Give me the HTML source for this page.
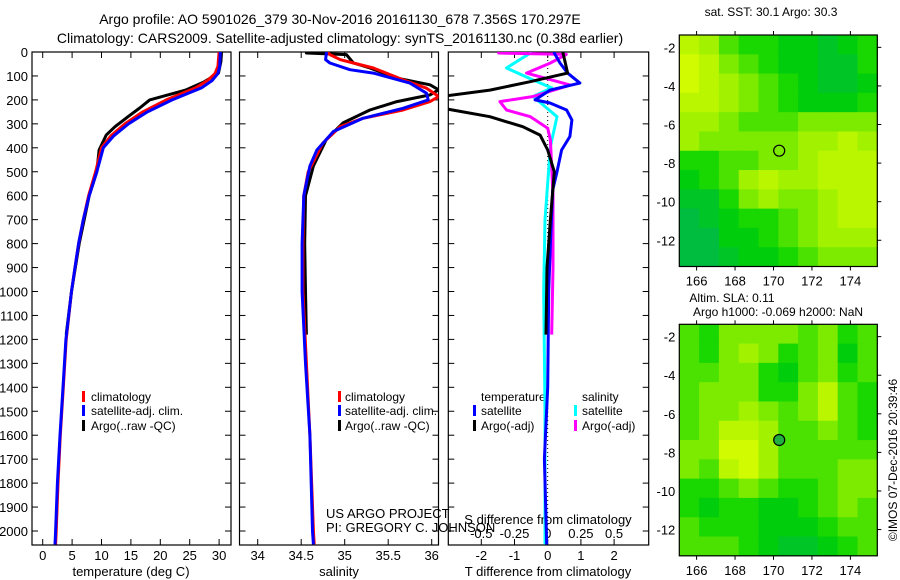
<!DOCTYPE html>
<html><head><meta charset="utf-8"><style>
html,body{margin:0;padding:0;background:#fff}
svg{display:block;font-family:"Liberation Sans",sans-serif}
</style></head><body>
<svg id="fig" width="900" height="580" viewBox="0 0 900 580">
<g id="texts" font-size="14" fill="#000">
<text x="340" y="24" text-anchor="middle">Argo profile: AO 5901026_379 30-Nov-2016 20161130_678 7.356S 170.297E</text>
<text x="340" y="43" text-anchor="middle">Climatology: CARS2009. Satellite-adjusted climatology: synTS_20161130.nc (0.38d earlier)</text>
<text x="771" y="16" text-anchor="middle" font-size="12">sat. SST: 30.1 Argo: 30.3</text>
<text x="732" y="302" text-anchor="middle" font-size="12">Altim. SLA: 0.11</text>
<text x="778" y="316" text-anchor="middle" font-size="12">Argo h1000: -0.069 h2000: NaN</text>
<text transform="translate(897,460) rotate(-90)" text-anchor="middle" font-size="12">©IMOS 07-Dec-2016 20:39:46</text>
<text x="131" y="576" text-anchor="middle" font-size="13">temperature (deg C)</text>
<text x="339" y="576" text-anchor="middle" font-size="13">salinity</text>
<text x="548" y="576" text-anchor="middle" font-size="13">T difference from climatology</text>
<text x="548" y="524" text-anchor="middle" font-size="13">S difference from climatology</text>
<text x="326" y="518" font-size="13">US ARGO PROJECT</text>
<text x="326" y="532" font-size="13">PI: GREGORY C. JOHNSON</text>
</g>
<g id="legends" font-size="12">
<g><rect x="82" y="391" width="3" height="11" fill="#f00"/><text x="91" y="401">climatology</text></g>
<g><rect x="82" y="405" width="3" height="11" fill="#00f"/><text x="91" y="415">satellite-adj. clim.</text></g>
<g><rect x="82" y="420" width="3" height="11" fill="#000"/><text x="91" y="430">Argo(..raw -QC)</text></g>
<g><rect x="338" y="391" width="3" height="11" fill="#f00"/><text x="345" y="401">climatology</text></g>
<g><rect x="338" y="405" width="3" height="11" fill="#00f"/><text x="345" y="415">satellite-adj. clim.</text></g>
<g><rect x="338" y="420" width="3" height="11" fill="#000"/><text x="345" y="430">Argo(..raw -QC)</text></g>
<text x="481" y="401">temperature</text>
<text x="582" y="401">salinity</text>
<g><rect x="473" y="405" width="3" height="11" fill="#00f"/><text x="481" y="415">satellite</text></g>
<g><rect x="473" y="420" width="3" height="11" fill="#000"/><text x="481" y="430">Argo(-adj)</text></g>
<g><rect x="574" y="405" width="3" height="11" fill="#0ff"/><text x="582" y="415">satellite</text></g>
<g><rect x="574" y="420" width="3" height="11" fill="#f0f"/><text x="582" y="430">Argo(-adj)</text></g>
</g>
</svg>
<script>
// ---------- data ----------
const depthTicks = [0,100,200,300,400,500,600,700,800,900,1000,1100,1200,1300,1400,1500,1600,1700,1800,1900,2000];
const tempTicks = [0,5,10,15,20,25,30];
const salTicks = [34,34.5,35,35.5,36];
const salTickLabels = ["34","34.5","35","35.5","36"];
const tdiffTicks = [-2,-1,0,1,2];
const sdiffTicks = [-0.5,-0.25,0,0.25,0.5];
const sdiffTickLabels = ["-0.5","-0.25","0","0.25","0.5"];

const tClimDepth = [0,60,90,120,150,200,250,300,350,400,500,600,700,800,900,1000,1200,1400,1600,1800,2000,2056];
const tClimVal   = [30,29.8,29.3,28,26,21,17,14,11.6,10,9.0,7.8,6.9,6.1,5.5,4.9,4.0,3.5,3.0,2.6,2.3,2.2];
const tSatDepth  = [0,60,90,120,150,200,250,300,350,400,500,600,700,800,900,1000,1200,1400,1600,1800,2000,2056];
const tSatVal    = [30.2,30.1,29.8,28.8,27,22,17.8,14.6,12.1,10.3,9.2,7.9,6.9,6.1,5.5,4.9,3.95,3.45,2.95,2.5,2.2,2.1];
const tArgoDepth = [0,40,88,124,159,200,234,270,312,347,409,500,600,800,1000,1180];
const tArgoVal   = [30.4,30.3,29.9,27.5,24.3,18.2,16.5,14.5,12.3,10.8,9.6,9.2,7.9,6.2,4.9,4.0];

const sClimDepth = [0,11,32,46,67,116,151,186,207,242,277,311,380,500,600,800,1000,1300,1600,2000,2056];
const sClimVal   = [34.8,34.83,34.95,35.1,35.33,35.67,35.94,36.08,35.98,35.67,35.21,34.95,34.75,34.58,34.53,34.52,34.52,34.56,34.6,34.64,34.65];
const sSatDepth  = [0,4,32,46,74,88,130,172,200,235,277,332,409,476,600,800,1000,1300,1600,2000,2056];
const sSatVal    = [34.8,34.79,34.78,34.83,35.06,35.33,35.75,35.94,35.96,35.67,35.21,34.87,34.68,34.6,34.53,34.51,34.51,34.55,34.6,34.63,34.64];
const sArgoDepth = [0,4,11,46,67,109,137,158,179,207,242,296,365,476,600,800,1000,1180];
const sArgoVal   = [34.56,34.56,35.02,35.1,35.29,35.6,35.98,36.08,35.98,35.6,35.29,34.98,34.79,34.64,34.55,34.54,34.55,34.56];

const dTArgoDepth = [0,4,40,88,124,159,186,234,270,312,347,409,500,700,900,1180];
const dTArgoVal   = [0.46,0.46,0.52,0.6,-0.53,-1.74,-3.2,-3.2,-1.74,-0.75,-0.23,0,0.2,0.08,-0.02,-0.05];
const dTSatDepth  = [0,4,46,88,130,159,200,213,242,284,353,409,506,576,800,1000,1400,1700,2056];
const dTSatVal    = [0.2,0.2,0.37,0.6,0.97,0.07,-0.38,0.07,0.57,0.73,0.67,0.42,0.27,0.15,0.08,0.03,0.0,-0.1,-0.03];
const dSArgoDepth = [0,4,10,46,88,138,186,207,242,270,318,367,600,900,1180];
const dSArgoVal   = [-0.37,-0.37,0.14,0.02,-0.16,0.17,-0.11,-0.36,-0.31,-0.13,0,0.02,0.04,0.04,0.03];
const dSSatDepth  = [0,4,67,117,150,186,270,395,700,1000,1500,2056];
const dSSatVal    = [-0.13,-0.13,-0.31,-0.11,0.03,-0.11,0.07,0.02,-0.02,-0.03,-0.02,-0.02];

const lonTicks = [166,168,170,172,174];
const latTicks = [-2,-4,-6,-8,-10,-12];
const argoLon = 170.297, argoLat = -7.356;
const sstGrid = [
[0.8,0.7,0.5,0.4,0.4,0.3,0.3,0.2,0.3,0.4],
[0.9,0.8,0.6,0.5,0.4,0.3,0.3,0.2,0.2,0.4],
[0.9,0.8,0.7,0.6,0.5,0.4,0.3,0.2,0.2,0.3],
[0.8,0.8,0.7,0.6,0.5,0.4,0.3,0.3,0.3,0.4],
[0.7,0.7,0.6,0.5,0.5,0.5,0.6,0.6,0.6,0.6],
[0.7,0.6,0.6,0.6,0.6,0.6,0.7,0.7,0.8,0.7],
[0.4,0.4,0.5,0.5,0.6,0.6,0.7,0.8,0.8,0.8],
[0.3,0.4,0.5,0.7,0.8,0.7,0.7,0.8,0.8,0.8],
[0.2,0.2,0.4,0.6,0.7,0.6,0.6,0.7,0.8,0.8],
[0.1,0.2,0.3,0.4,0.4,0.5,0.6,0.7,0.8,0.8],
[0.1,0.1,0.3,0.3,0.4,0.5,0.6,0.7,0.7,0.7],
[0.1,0.1,0.2,0.3,0.3,0.4,0.5,0.6,0.6,0.6]];
const slaGrid = [
[0.5,0.4,0.6,0.6,0.6,0.6,0.5,0.6,0.4,0.5],
[0.5,0.4,0.6,0.7,0.6,0.4,0.5,0.6,0.3,0.5],
[0.5,0.5,0.6,0.6,0.4,0.3,0.5,0.6,0.4,0.5],
[0.5,0.6,0.6,0.6,0.4,0.4,0.6,0.8,0.5,0.4],
[0.5,0.6,0.6,0.7,0.6,0.5,0.6,0.8,0.5,0.4],
[0.5,0.6,0.8,0.8,0.7,0.5,0.5,0.6,0.5,0.4],
[0.6,0.6,0.9,0.9,0.7,0.5,0.5,0.5,0.5,0.5],
[0.6,0.5,0.8,0.9,0.7,0.5,0.5,0.5,0.6,0.6],
[0.4,0.4,0.5,0.6,0.5,0.4,0.4,0.5,0.6,0.6],
[0.4,0.3,0.4,0.4,0.3,0.3,0.4,0.5,0.6,0.5],
[0.5,0.4,0.4,0.4,0.3,0.3,0.3,0.4,0.5,0.5],
[0.5,0.5,0.5,0.4,0.3,0.2,0.2,0.3,0.4,0.5]];

// ---------- helpers ----------
const NS = "http://www.w3.org/2000/svg";
const svg = document.getElementById('fig');
function mk(tag, attrs, parent){
  const e = document.createElementNS(NS, tag);
  for (const k in attrs) e.setAttribute(k, attrs[k]);
  (parent||svg).appendChild(e); return e;
}
const TOP = 52, BOT = 545;
const yD = d => TOP + d * 0.2395;
const xT = t => 42.7 + t * 5.88;
const xS = s => 257.7 + (s - 34) * 87;
const xDT = t => 547.7 + t * 33.2;
const xDS = s => 547.7 + s * 132.8;

function clip(id, x0, x1){
  let defs = svg.querySelector('defs') || mk('defs', {});
  const c = mk('clipPath', {id}, defs);
  mk('rect', {x:x0, y:TOP, width:x1-x0, height:BOT-TOP}, c);
}
function line(depths, vals, fx, color, name, clipId){
  const pts = depths.map((d,i)=> fx(vals[i]).toFixed(1)+','+yD(d).toFixed(1)).join(' ');
  const p = mk('polyline', {points:pts, fill:'none', stroke:color, 'stroke-width':3, 'stroke-linejoin':'round', 'clip-path':'url(#'+clipId+')'});
  
  
}
function frame(x0, x1, name, leftLabels, xticks, fx, labels, labelY){
  const g = mk('g', {});
  
  
  mk('rect', {x:x0, y:TOP, width:x1-x0, height:BOT-TOP, fill:'none', stroke:'#000', 'stroke-width':1.2}, g);
  depthTicks.forEach(d=>{
    const y = yD(d);
    mk('line', {x1:x0, x2:x0+6, y1:y, y2:y, stroke:'#000'}, g);
    mk('line', {x1:x1-6, x2:x1, y1:y, y2:y, stroke:'#000'}, g);
    if (leftLabels){
      const t = mk('text', {x:x0-4, y:y+5, 'text-anchor':'end', 'font-size':13}, g);
      t.textContent = d;
      
      
    }
  });
  xticks.forEach((v,i)=>{
    const x = fx(v);
    mk('line', {x1:x, x2:x, y1:BOT, y2:BOT-6, stroke:'#000'}, g);
    mk('line', {x1:x, x2:x, y1:TOP, y2:TOP+6, stroke:'#000'}, g);
    const t = mk('text', {x:x, y:labelY, 'text-anchor':'middle', 'font-size':13}, g);
    t.textContent = labels[i];
    
    
  });
  return g;
}

// ---------- panels ----------
frame(32, 231, 'temperature-panel', true, tempTicks, xT, tempTicks.map(String), 560);
frame(239.5, 438.5, 'salinity-panel', false, salTicks, xS, salTickLabels, 560);
const g3 = frame(448.3, 648.7, 'difference-panel', false, tdiffTicks, xDT, tdiffTicks.map(String), 560);
sdiffTicks.forEach((v,i)=>{
  const t = mk('text', {x:xDS(v), y:538, 'text-anchor':'middle', 'font-size':13}, g3);
  t.textContent = sdiffTickLabels[i];
  
  
});
clip('c1', 32, 231); clip('c2', 239.5, 438.5); clip('c3', 448.3, 648.7);
mk('line', {x1:xDT(0), x2:xDT(0), y1:TOP, y2:BOT, stroke:'#000', 'stroke-dasharray':'1,3'});

line(tArgoDepth, tArgoVal, xT, '#000', 'argo-temperature-line', 'c1');
line(tClimDepth, tClimVal, xT, '#f00', 'climatology-temperature-line', 'c1');
line(tSatDepth, tSatVal, xT, '#00f', 'satellite-temperature-line', 'c1');

line(sArgoDepth, sArgoVal, xS, '#000', 'argo-salinity-line', 'c2');
line(sClimDepth, sClimVal, xS, '#f00', 'climatology-salinity-line', 'c2');
line(sSatDepth, sSatVal, xS, '#00f', 'satellite-salinity-line', 'c2');

line(dSSatDepth, dSSatVal, xDS, '#0ff', 'satellite-s-diff-line', 'c3');
line(dSArgoDepth, dSArgoVal, xDS, '#f0f', 'argo-s-diff-line', 'c3');
line(dTSatDepth, dTSatVal, xDT, '#00f', 'satellite-t-diff-line', 'c3');
line(dTArgoDepth, dTArgoVal, xDT, '#000', 'argo-t-diff-line', 'c3');

// ---------- maps ----------
function col(v){
  const stops = [[0,[0,180,90]],[0.35,[0,210,0]],[0.65,[150,240,0]],[1,[232,255,0]]];
  for (let i=1;i<stops.length;i++){
    if (v <= stops[i][0]){
      const a = stops[i-1], b = stops[i], f = (v-a[0])/(b[0]-a[0]);
      return 'rgb('+a[1].map((c,j)=>Math.round(c+(b[1][j]-c)*f)).join(',')+')';
    }
  }
  return 'rgb(232,255,0)';
}
function map(y0, grid, name, filled){
  const X0 = 679.3, X1 = 877.3, Y1 = y0 + 231.5;
  const lonMin = 165.1, lonMax = 175.4, latMax = -1.36, latMin = -13.36;
  const mx = lon => X0 + (lon-lonMin)/(lonMax-lonMin)*(X1-X0);
  const my = lat => y0 + (latMax-lat)/(latMax-latMin)*(Y1-y0);
  const g = mk('g', {});
  
  
  const nr = grid.length, nc = grid[0].length;
  const cw = (X1-X0)/nc, ch = (Y1-y0)/nr;
  grid.forEach((row,r)=>row.forEach((v,c)=>{
    const cell = mk('rect', {x:X0+c*cw, y:y0+r*ch, width:cw+0.5, height:ch+0.5, fill:col(v)}, g);
    
    
  }));
  mk('rect', {x:X0, y:y0, width:X1-X0, height:Y1-y0, fill:'none', stroke:'#000', 'stroke-width':1.2}, g);
  lonTicks.forEach(l=>{
    const x = mx(l);
    mk('line', {x1:x, x2:x, y1:Y1, y2:Y1+4, stroke:'#000'}, g);
    mk('line', {x1:x, x2:x, y1:y0, y2:y0-4, stroke:'#000'}, g);
    const t = mk('text', {x:x, y:Y1+19, 'text-anchor':'middle', 'font-size':13}, g);
    t.textContent = l;
    
    
  });
  latTicks.forEach(l=>{
    const y = my(l);
    mk('line', {x1:X1, x2:X1+4, y1:y, y2:y, stroke:'#000'}, g);
    const t = mk('text', {x:X0-4, y:y+5, 'text-anchor':'end', 'font-size':13}, g);
    t.textContent = l;
    
    
  });
  const m = mk('circle', {cx:mx(argoLon), cy:my(argoLat), r:5.5, fill:filled?'#22b040':'none', stroke:'#000', 'stroke-width':1.2}, g);
  
  
}
map(35, sstGrid, 'sst-map', false);
map(324.3, slaGrid, 'sla-map', true);
</script>
</body></html>
